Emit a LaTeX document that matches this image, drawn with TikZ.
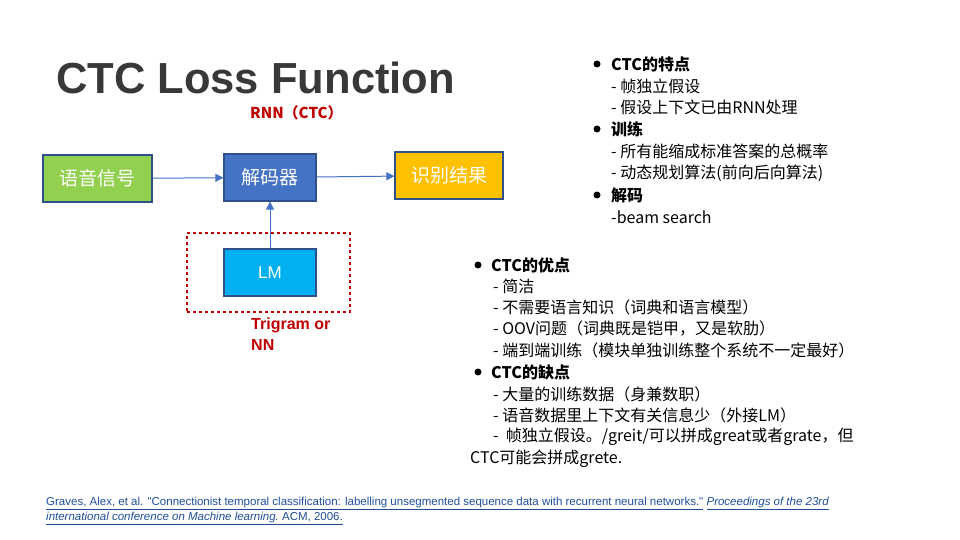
\documentclass[tikz,border=0pt]{standalone}
\usepackage{fontspec}
\setmainfont{Noto Sans CJK SC}
\newfontfamily\lat{Liberation Sans}
\usetikzlibrary{arrows.meta}
\definecolor{cgreen}{HTML}{92D050}
\definecolor{cblue}{HTML}{4472C4}
\definecolor{cyell}{HTML}{FFC000}
\definecolor{clm}{HTML}{00B0F0}
\definecolor{cred}{HTML}{C00000}
\definecolor{cref}{HTML}{1F4E9A}
\begin{document}
\begin{tikzpicture}[x=1pt,y=-1pt,
 box/.style={draw=cblue!70!black,line width=1.2pt,minimum width=92pt,minimum height=47pt,text=white,font=\fontsize{19}{22}\selectfont},
 arr/.style={draw=cblue,line width=1pt,-{Triangle[length=8pt,width=8pt]}},
 li/.style={anchor=west,inner sep=0pt,font=\fontsize{16}{18}\selectfont},
 bh/.style={li,font=\bfseries\fontsize{16}{18}\selectfont},
 bul/.style={circle,fill=black,inner sep=0pt,minimum size=7pt}]
\useasboundingbox (0,0) rectangle (960,540);
\node (title)[anchor=west,inner sep=0pt,font=\lat\bfseries\fontsize{43.5}{45}\selectfont,text=black!78] at (56,78) {CTC Loss Function};
\node (rnn)[anchor=west,inner sep=0pt,text=cred,font=\bfseries\fontsize{15}{17}\selectfont] at (250,113) {RNN（CTC）};
\node (a)[box,fill=cgreen,minimum width=109pt] at (97.5,178.5) {语音信号};
\node (b)[box,fill=cblue] at (270,177.5) {解码器};
\node (c)[box,fill=cyell,minimum width=108pt] at (449,175.5) {识别结果};
\node (lm)[box,fill=clm,font=\lat\fontsize{17}{20}\selectfont] at (270,272.5) {LM};
\node (dash)[draw=cred,dashed,line width=1.3pt,minimum width=163pt,minimum height=79pt,inner sep=0pt] at (268.5,272.5) {};
\node (tri)[anchor=north west,align=left,inner sep=0pt,text=cred,font=\lat\bfseries\fontsize{16}{21}\selectfont] at (251,318) {Trigram or\\NN};
\draw[arr] (a) -- (b);
\draw[arr] (b) -- (c);
\draw[arr] (lm) -- (b);
% right list
\node (r0b)[bul] at (597,64) {};
\node (r0)[bh] at (611,64) {CTC的特点};
\node (r1)[li] at (611,86) {- 帧独立假设};
\node (r2)[li] at (611,107) {- 假设上下文已由RNN处理};
\node (r3b)[bul] at (597,129) {};
\node (r3)[bh] at (611,129) {训练};
\node (r4)[li] at (611,151) {- 所有能缩成标准答案的总概率};
\node (r5)[li] at (611,173) {- 动态规划算法(前向后向算法)};
\node (r6b)[bul] at (597,195) {};
\node (r6)[bh] at (611,195) {解码};
\node (r7)[li] at (611,217) {-beam search};
% lower list
\node (s0b)[bul] at (478,265) {};
\node (s0)[bh] at (491,265) {CTC的优点};
\node (s1)[li] at (493,286) {- 简洁};
\node (s2)[li] at (493,307) {- 不需要语言知识（词典和语言模型）};
\node (s3)[li] at (493,329) {- OOV问题（词典既是铠甲，又是软肋）};
\node (s4)[li] at (493,350) {- 端到端训练（模块单独训练整个系统不一定最好）};
\node (s5b)[bul] at (478,372) {};
\node (s5)[bh] at (491,372) {CTC的缺点};
\node (s6)[li] at (493,394) {- 大量的训练数据（身兼数职）};
\node (s7)[li] at (493,415) {- 语音数据里上下文有关信息少（外接LM）};
\node (s8)[li] at (493,437) {-\ \ 帧独立假设。/greit/可以拼成great或者grate，但};
\node (s9)[li] at (470,459) {CTC可能会拼成grete.};
% reference
\node (ref)[anchor=north west,align=left,inner sep=0pt,text=cref,font=\lat\fontsize{11.5}{15}\selectfont] at (46,497)
 {\underline{Graves, Alex, et al. "Connectionist temporal classification: labelling unsegmented sequence data with recurrent neural networks."} \underline{\itshape Proceedings of the 23rd}\\
 \underline{\itshape international conference on Machine learning.\upshape\ ACM, 2006.}};
\end{tikzpicture}
\end{document}
